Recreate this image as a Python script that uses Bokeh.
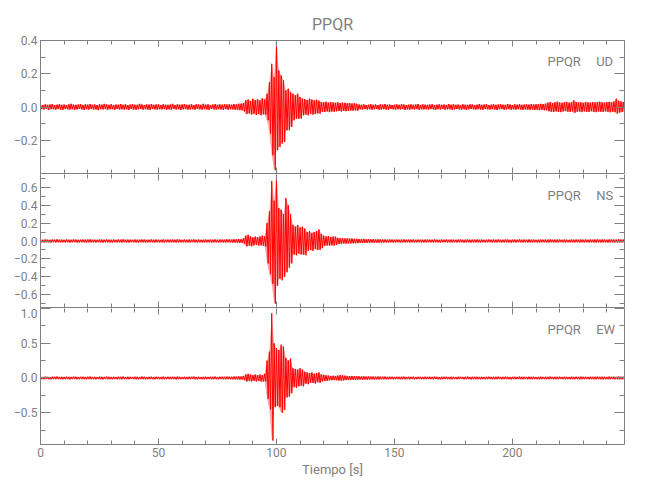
import numpy as np
from bokeh.plotting import figure
from bokeh.models import Range1d, LinearAxis, Label, FixedTicker, CustomJSTickFormatter
from bokeh.layouts import column
from bokeh.embed import file_html
from bokeh.resources import INLINE

# ---------------- data (envelope of each trace, 1 s steps, units 1e-3 cm/s/s) ----------------
t_sec = list(range(0, 249))          # 0 .. 248 s

ud_hi_pre = [14,12,16,13,15,18,12,14,17,13, 15,12,16,19,14,13,15,17,12,16,
             14,18,13,15,12,16,14,19,15,13, 17,12,15,14,18,13,16,12,15,17,
             14,13,19,15,12,16,14,18,13,15, 16,12,17,14,13,15,19,12,16,14,
             15,18,13,14,16,12,17,15,13,19, 14,16,12,15,18,13,16,14,17,15,
             16,14,18,15,20]
ud_lo_pre = [-13,-15,-12,-17,-14,-13,-16,-12,-15,-18, -12,-14,-16,-13,-17,-15,-12,-14,-18,-13,
             -16,-12,-15,-14,-19,-13,-15,-12,-16,-14, -13,-17,-12,-15,-14,-16,-13,-18,-12,-15,
             -17,-14,-12,-16,-13,-15,-18,-12,-14,-16, -13,-15,-12,-17,-14,-16,-12,-15,-13,-18,
             -14,-12,-16,-15,-13,-17,-12,-14,-16,-13, -15,-18,-12,-14,-16,-13,-15,-17,-12,-16,
             -14,-15,-17,-16,-19]
ud_hi_evt = [20,24,40,45,36,50,42,46,40,52,45,
             80,150,260,180,400,220,190,160,100,110,90,80,70,80,60,50,
             48,42,50,45,40,44,38,
             30,28,32,26,30,27,25,28,24,26,25,22,24,21,23,20]
ud_lo_evt = [-20,-26,-42,-38,-45,-40,-48,-42,-50,-44,-46,
             -80,-160,-290,-380,-260,-240,-220,-210,-140,-140,-120,-80,-70,-70,-70,-50,
             -45,-50,-40,-46,-42,-38,-40,
             -28,-30,-26,-31,-27,-29,-26,-24,-27,-23,-25,-24,-21,-23,-20,-22]
ud_hi_post = [15,13,16,12,14,17,13,15,12,16, 14,18,13,15,12,14,16,13,17,15,
              12,14,16,13,15,18,12,16,14,13, 15,17,12,14,16,13,15,12,18,14,
              16,13,15,12,17,14,13,16,15,12, 14,18,13,15,16,12,14,17,13,15,
              16,14,13,18,15,12,16,14,17,13, 15,16,14,18,15,17,16,19,18,20,
              26,30,24,28,32,27,25,29,31,26, 28,40,30,27,29,25,31,28,26,30,
              27,29,32,28,26,30,31,28,33,50,38,34, 30,28]
ud_lo_post = [-14,-16,-12,-15,-13,-17,-14,-12,-16,-15, -13,-15,-17,-12,-14,-16,-13,-15,-12,-18,
              -14,-16,-13,-15,-12,-17,-14,-15,-13,-16, -12,-14,-18,-13,-15,-12,-16,-14,-13,-17,
              -15,-12,-14,-16,-13,-18,-15,-12,-14,-16, -13,-15,-17,-12,-14,-16,-13,-15,-18,-14,
              -12,-16,-15,-13,-17,-14,-16,-13,-15,-18, -14,-16,-17,-15,-18,-16,-19,-17,-20,-19,
              -25,-28,-30,-26,-29,-31,-27,-24,-28,-30, -26,-35,-29,-27,-31,-26,-28,-30,-25,-29,
              -31,-27,-28,-30,-26,-29,-32,-28,-30,-40,-34,-30, -29,-31]

ns_hi_pre = [16,14,18,15,13,17,15,19,14,16, 13,17,15,14,18,16,13,15,17,14,
             16,19,14,15,13,17,16,14,18,15, 14,16,13,17,15,19,14,16,15,13,
             17,15,14,18,16,13,15,17,14,16, 15,13,18,14,16,15,17,14,19,15,
             13,16,14,17,15,18,14,16,13,15, 17,14,16,15,18,14,16,17,15,19,
             17,16,20,18,22]
ns_lo_pre = [-15,-17,-14,-16,-18,-13,-16,-14,-17,-15, -16,-14,-18,-15,-13,-17,-16,-14,-15,-18,
             -14,-16,-15,-17,-13,-16,-18,-14,-15,-16, -17,-13,-16,-15,-18,-14,-16,-17,-13,-15,
             -16,-18,-14,-15,-17,-16,-13,-15,-18,-14, -16,-15,-17,-13,-15,-16,-14,-18,-15,-16,
             -14,-17,-15,-16,-13,-15,-18,-14,-16,-17, -15,-14,-17,-16,-15,-18,-14,-16,-17,-15,
             -16,-18,-17,-19,-21]
ns_hi_evt = [20,30,60,70,50,40,50,40,50,60,50,
             200,330,670,450,740,370,350,300,480,400,300,180,160,180,150,160,140,100,110,90,100,110,130,
             80,60,50,55,45,50,48,35,30,32,28,30,26,28,24,25]
ns_lo_evt = [-20,-30,-60,-50,-60,-50,-40,-50,-50,-50,-60,
             -250,-370,-480,-700,-500,-420,-440,-400,-350,-300,-250,-150,-160,-140,-150,-150,-160,-110,-100,-110,-90,-100,-100,
             -80,-55,-50,-50,-48,-52,-45,-32,-30,-28,-30,-27,-28,-25,-26,-24]
ns_hi_post = [22,20,24,19,21,18,20,17,19,18, 16,18,15,17,16,14,17,15,16,18,
              14,16,15,17,13,16,15,14,17,15, 16,14,18,15,13,16,15,17,14,16,
              15,13,17,16,14,15,18,14,16,15, 17,14,16,13,15,17,14,16,15,18,
              14,15,17,16,13,15,16,14,18,15, 16,14,17,15,16,13,15,17,14,16,
              15,18,14,16,15,17,14,16,15,13, 17,15,16,14,18,15,16,14,17,15,
              16,18,15,17,16,14,18,16,17,15, 19,17,16,18]
ns_lo_post = [-21,-23,-19,-22,-20,-18,-21,-17,-19,-18, -17,-16,-18,-15,-17,-16,-14,-17,-15,-16,
              -15,-17,-14,-16,-15,-13,-17,-15,-16,-14, -15,-17,-14,-16,-18,-15,-13,-16,-15,-17,
              -14,-16,-15,-13,-17,-16,-14,-18,-15,-16, -15,-17,-14,-16,-15,-13,-17,-15,-16,-14,
              -17,-15,-14,-16,-18,-15,-16,-13,-15,-17, -14,-16,-15,-17,-14,-16,-18,-15,-14,-16,
              -16,-14,-17,-15,-16,-13,-15,-17,-14,-16, -15,-16,-14,-18,-15,-16,-14,-17,-15,-16,
              -17,-15,-16,-18,-15,-17,-16,-14,-17,-16, -18,-17,-17,-15]

ew_hi_pre = [18,16,20,17,15,19,17,21,16,18, 15,19,17,16,20,18,15,17,19,16,
             18,21,16,17,15,19,18,16,20,17, 16,18,15,19,17,21,16,18,17,15,
             19,17,16,20,18,15,17,19,16,18, 17,15,20,16,18,17,19,16,21,17,
             15,18,16,19,17,20,16,18,15,17, 19,16,18,17,20,16,18,19,17,21,
             19,18,22,20,24]
ew_lo_pre = [-17,-19,-16,-18,-20,-15,-18,-16,-19,-17, -18,-16,-20,-17,-15,-19,-18,-16,-17,-20,
             -16,-18,-17,-19,-15,-18,-20,-16,-17,-18, -19,-15,-18,-17,-20,-16,-18,-19,-15,-17,
             -18,-20,-16,-17,-19,-18,-15,-17,-20,-16, -18,-17,-19,-15,-17,-18,-16,-20,-17,-18,
             -16,-19,-17,-18,-15,-17,-20,-16,-18,-19, -17,-16,-19,-18,-17,-20,-16,-18,-19,-17,
             -18,-20,-19,-21,-23]
ew_hi_evt = [22,30,50,60,50,40,50,40,50,40,60,
             250,380,930,500,430,400,480,450,290,250,280,140,130,120,140,120,90,80,70,80,60,70,80,
             50,45,40,35,30,32,30,35,40,38,34,30,28,30,26,25]
ew_lo_evt = [-22,-30,-50,-40,-50,-40,-50,-40,-50,-50,-50,
             -300,-450,-900,-420,-400,-420,-500,-460,-280,-270,-220,-130,-140,-120,-110,-120,-80,-90,-70,-70,-80,-60,-70,
             -50,-45,-40,-35,-32,-30,-32,-36,-38,-35,-30,-30,-28,-26,-27,-24]
ew_hi_post = [24,22,25,21,23,20,22,19,21,20, 18,20,17,19,18,16,19,17,18,20,
              16,18,17,19,15,18,17,16,19,17, 18,16,20,17,15,18,17,19,16,18,
              17,15,19,18,16,17,20,16,18,17, 19,16,18,15,17,19,16,18,17,20,
              16,17,19,18,15,17,18,16,20,17, 18,16,19,17,18,15,17,19,16,18,
              17,20,16,18,17,19,16,18,17,15, 19,17,18,16,20,17,18,16,19,17,
              18,20,17,19,18,16,20,18,19,17, 21,19,18,20]
ew_lo_post = [-23,-25,-21,-24,-22,-20,-23,-19,-21,-20, -19,-18,-20,-17,-19,-18,-16,-19,-17,-18,
              -17,-19,-16,-18,-17,-15,-19,-17,-18,-16, -17,-19,-16,-18,-20,-17,-15,-18,-17,-19,
              -16,-18,-17,-15,-19,-18,-16,-20,-17,-18, -17,-19,-16,-18,-17,-15,-19,-17,-18,-16,
              -19,-17,-16,-18,-20,-17,-18,-15,-17,-19, -16,-18,-17,-19,-16,-18,-20,-17,-16,-18,
              -18,-16,-19,-17,-18,-15,-17,-19,-16,-18, -17,-18,-16,-20,-17,-18,-16,-19,-17,-18,
              -19,-17,-18,-20,-17,-19,-18,-16,-19,-18, -20,-19,-19,-17]

station = "PPQR"
components = ["UD", "NS", "EW"]
x_ticks = [0, 50, 100, 150, 200]
x_minor = list(range(0, 250, 10))
ud_ticks, ud_minor = [-0.2, 0.0, 0.2, 0.4], [-0.3, -0.1, 0.1, 0.3]
ns_ticks, ns_minor = [-0.6, -0.4, -0.2, 0.0, 0.2, 0.4, 0.6], [-0.7, -0.5, -0.3, -0.1, 0.1, 0.3, 0.5, 0.7]
ew_ticks, ew_minor = [-0.5, 0.0, 0.5, 1.0], [-0.75, -0.25, 0.25, 0.75]
ud_range, ns_range, ew_range = (-0.4, 0.4), (-0.744, 0.744), (-0.957, 1.0)

# ---------------- styling ----------------
GRAY = "#808080"
RED = "#ff0000"
FONT = "Roboto"
UNIT = 1e-3

xr = Range1d(0, 247.5)
t = np.asarray(t_sec, dtype=float)
yfmt = CustomJSTickFormatter(code="return tick.toFixed(1).replace('-', '\u2212');")


def style_axis(ax, ticks, minor, major_in, minor_in, labels, line=True, fmt=None):
    ax.ticker = FixedTicker(ticks=ticks, minor_ticks=minor)
    ax.major_tick_in = major_in
    ax.major_tick_out = 0
    ax.minor_tick_in = minor_in
    ax.minor_tick_out = 0
    ax.axis_line_color = GRAY if line else None
    ax.major_tick_line_color = GRAY
    ax.minor_tick_line_color = GRAY
    if labels:
        ax.major_label_text_color = GRAY
        ax.major_label_text_font = FONT
        ax.major_label_text_font_size = "12px"
        ax.major_label_standoff = 3
        if fmt is not None:
            ax.formatter = fmt
    else:
        ax.major_label_text_color = None


def make_panel(hi, lo, yr, yt, ym, comp, label_y, top, bottom, frame_h, show_x, top_line):
    p = figure(width=642, height=top + frame_h + bottom, x_range=xr, y_range=Range1d(*yr),
               output_backend="svg", toolbar_location=None,
               min_border_left=40, min_border_right=18, min_border_top=top, min_border_bottom=bottom)
    p.grid.visible = False
    p.outline_line_color = None
    p.background_fill_color = "white"
    p.border_fill_color = "white"

    hi_v = np.asarray(hi, dtype=float) * UNIT
    lo_v = np.asarray(lo, dtype=float) * UNIT
    p.varea(x=t, y1=lo_v, y2=hi_v, fill_color=RED, fill_alpha=0.35)
    xs = np.column_stack([t, t + 0.5]).ravel()
    ys = np.column_stack([hi_v, lo_v]).ravel()
    p.line(xs, ys, line_color=RED, line_width=1)

    ax_b = p.xaxis[0]
    style_axis(ax_b, x_ticks, x_minor, 6, 4, show_x)
    style_axis(p.yaxis[0], yt, ym, 10, 5, True, fmt=yfmt)
    ax_top = LinearAxis()
    style_axis(ax_top, x_ticks, x_minor, 6, 4, False, line=top_line)
    p.add_layout(ax_top, "above")
    ax_r = LinearAxis()
    style_axis(ax_r, yt, ym, 10, 5, False)
    p.add_layout(ax_r, "right")

    p.add_layout(Label(x=229, y=label_y, text=station, text_align="right", text_baseline="middle",
                       text_color=GRAY, text_font=FONT, text_font_size="13px"))
    p.add_layout(Label(x=235.5, y=label_y, text=comp, text_align="left", text_baseline="middle",
                       text_color=GRAY, text_font=FONT, text_font_size="13px"))
    return p, ax_b


p1, _ = make_panel(ud_hi_pre + ud_hi_evt + ud_hi_post, ud_lo_pre + ud_lo_evt + ud_lo_post,
                   ud_range, ud_ticks, ud_minor, components[0], 0.275, 40, 1, 133, False, True)
p1.title.text = station
p1.title.align = "center"
p1.title.text_color = GRAY
p1.title.text_font = FONT
p1.title.text_font_size = "16px"
p1.title.text_font_style = "normal"
p1.title.standoff = 13

p2, _ = make_panel(ns_hi_pre + ns_hi_evt + ns_hi_post, ns_lo_pre + ns_lo_evt + ns_lo_post,
                   ns_range, ns_ticks, ns_minor, components[1], 0.51, 0, 1, 133, False, False)
p2.add_layout(Label(x=-11.4, y=0.0, text="Amplitud [cm/s/s]", angle=np.pi / 2,
                    text_align="center", text_baseline="middle",
                    text_color=GRAY, text_font=FONT, text_font_size="13px"))

p3, ax3 = make_panel(ew_hi_pre + ew_hi_evt + ew_hi_post, ew_lo_pre + ew_lo_evt + ew_lo_post,
                     ew_range, ew_ticks, ew_minor, components[2], 0.70, 0, 40, 136, True, False)
ax3.axis_label = "Tiempo [s]"
ax3.axis_label_text_color = GRAY
ax3.axis_label_text_font = FONT
ax3.axis_label_text_font_size = "13px"
ax3.axis_label_text_font_style = "normal"
ax3.axis_label_standoff = 2

layout = column(p1, p2, p3)
open("out.html", "w").write(file_html(layout, INLINE))
